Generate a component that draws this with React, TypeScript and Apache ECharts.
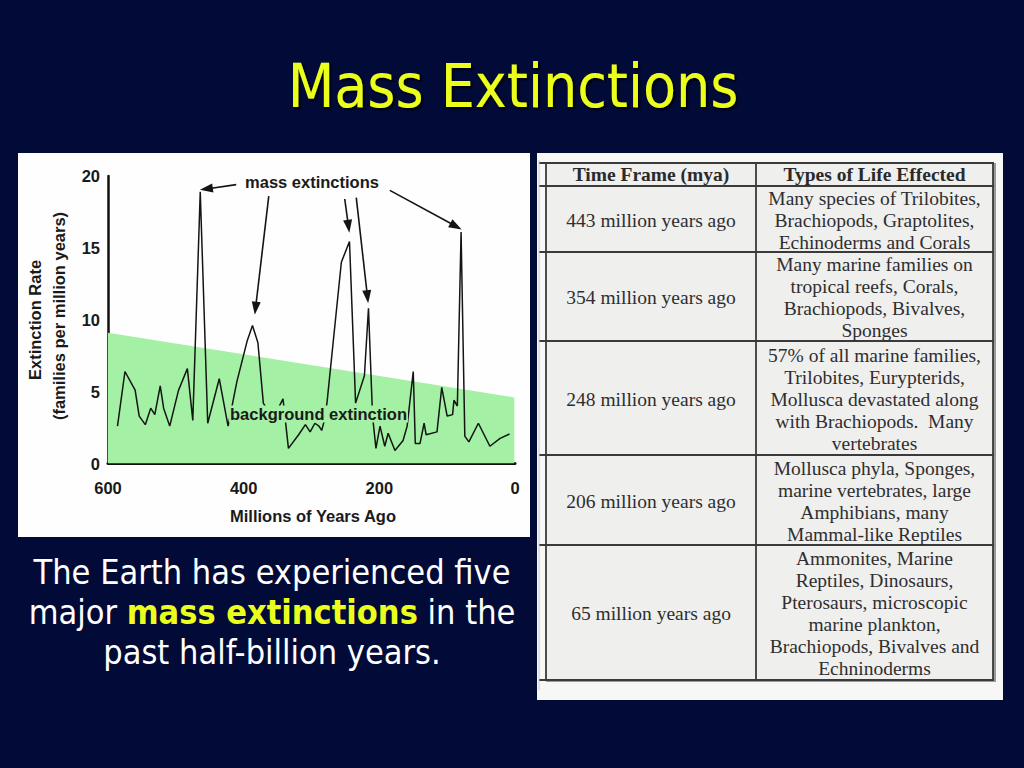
import React, { useEffect, useRef } from "react";
import * as echarts from "echarts";

// ---------- content ----------
const TITLE = "Mass Extinctions";
const Y_NAME_1 = "Extinction Rate";
const Y_NAME_2 = "(families per million years)";
const X_NAME = "Millions of Years Ago";
const MASS_LABEL = "mass extinctions";
const BACKGROUND_LABEL = "background extinction";

// [millions of years ago, extinction rate]
const extinctionRate: [number, number][] = [
  [586, 2.6], [575, 6.4], [560, 5.1], [554, 3.3], [545, 2.7], [537, 3.85], [531, 3.4],
  [523, 5.4], [518, 3.85], [509, 2.6], [496, 5.1], [483, 6.6], [475, 3.0], [464, 18.9],
  [453, 2.8], [436, 5.9], [423, 2.6], [410, 5.7], [395, 8.5], [387, 9.6], [379, 8.4],
  [371, 4.2], [357, 3.1], [342, 4.5], [334, 1.05], [319, 2.0], [309, 2.7], [302, 2.2],
  [295, 2.8], [289, 2.6], [285, 2.3], [281, 3.0], [277, 4.3], [256, 14.0], [244, 15.45],
  [235, 4.2], [222, 6.1], [216, 10.8], [210, 3.3], [205, 1.05], [199, 2.6], [192, 1.2],
  [187, 2.1], [177, 0.9], [165, 1.6], [159, 2.6], [150, 6.4], [147, 1.4], [140, 1.4],
  [134, 2.8], [131, 2.0], [115, 2.2], [108, 5.3], [100, 3.3], [92, 3.4], [90, 4.4],
  [85, 4.0], [79.5, 16.1], [74, 1.9], [68, 1.5], [54, 2.8], [37, 1.2], [22, 1.75], [8, 2.05],
];
// green "background extinction" band: [mya, upper edge]
const backgroundBand: [number, number][] = [[600, 9.1], [1, 4.6]];
// annotation arrows: tail -> head in data coords [mya, rate]
const arrowTails: [number, number][] = [[411, 19.4], [363, 18.6], [251, 18.4], [234, 18.5], [184.5, 19.0]];
const arrowHeads: [number, number][] = [[455, 19.1], [382.5, 10.8], [245.5, 16.5], [217.5, 11.6], [87, 16.5]];

const tableHeader = ["Time Frame (mya)", "Types of Life Effected"];
const timeFrames = [
  "443 million years ago",
  "354 million years ago",
  "248 million years ago",
  "206 million years ago",
  "65 million years ago",
];
const lifeAffected = [
  "Many species of Trilobites,\nBrachiopods, Graptolites,\nEchinoderms and Corals",
  "Many marine families on\ntropical reefs, Corals,\nBrachiopods, Bivalves,\nSponges",
  "57% of all marine families,\nTrilobites, Eurypterids,\nMollusca devastated along\nwith Brachiopods.  Many\nvertebrates",
  "Mollusca phyla, Sponges,\nmarine vertebrates, large\nAmphibians, many\nMammal-like Reptiles",
  "Ammonites, Marine\nReptiles, Dinosaurs,\nPterosaurs, microscopic\nmarine plankton,\nBrachiopods, Bivalves and\nEchninoderms",
];
const CAPTION = "The Earth has experienced five\nmajor {b|mass extinctions} in the\npast half-billion years.";

// ---------- styles / layout ----------
const SLIDE_BG = "#020a37";
const YELLOW = "#ecff1c";
const GREEN = "#a4f0a4";
const SLIDE_FONT = '"DejaVu Sans Condensed", "DejaVu Sans", sans-serif';
const CHART_FONT = '"Liberation Sans", Arial, sans-serif';
const TABLE_FONT = '"Liberation Serif", "Times New Roman", serif';
const TABLE_ROWS_Y = [163, 186, 252, 341, 455, 545, 680];
const TABLE_COLS_X = [546, 756, 993];
const CHART_FS = 16.5;
const TABLE_FS = 19.5;

function txt(
  text: string, x: number, y: number, font: string, size: number, weight: string,
  fill: string, extra: any = {}, elExtra: any = {}
) {
  return {
    type: "text", x, y, z: 100, silent: true, ...elExtra,
    style: {
      text, fill, fontFamily: font, fontSize: size, fontWeight: weight,
      align: "center", textAlign: "center", verticalAlign: "middle", textVerticalAlign: "middle",
      ...extra,
    },
  };
}

export default function App() {
  const ref = useRef<HTMLDivElement>(null);
  useEffect(() => {
    if (!ref.current) return;
    const chart = echarts.init(ref.current, null, { renderer: "svg", width: 1024, height: 768 });

    const graphics: any[] = [];
    // chart panel
    graphics.push({ type: "rect", z: 0, silent: true, shape: { x: 18, y: 153, width: 512, height: 384 }, style: { fill: "#fefefe" } });
    // table panel
    graphics.push({ type: "rect", z: 0, silent: true, shape: { x: 537, y: 153, width: 466, height: 547 }, style: { fill: "#f7f7f5" } });
    graphics.push({
      type: "rect", z: 1, silent: true,
      shape: { x: TABLE_COLS_X[0], y: TABLE_ROWS_Y[0], width: TABLE_COLS_X[2] - TABLE_COLS_X[0], height: TABLE_ROWS_Y[6] - TABLE_ROWS_Y[0] },
      style: { fill: "#efefee" },
    });
    // right shadow of table
    graphics.push({ type: "rect", z: 1, silent: true, shape: { x: 993, y: 163, width: 3, height: 519 }, style: { fill: "#9a9a9a" } });
    graphics.push({ type: "rect", z: 1, silent: true, shape: { x: 546, y: 680, width: 450, height: 2 }, style: { fill: "#9a9a9a" } });
    TABLE_ROWS_Y.forEach((y) => {
      graphics.push({ type: "line", z: 2, silent: true, shape: { x1: 539, y1: y, x2: 994, y2: y }, style: { stroke: "#3a3a3a", lineWidth: 1.8 } });
    });
    TABLE_COLS_X.forEach((x) => {
      graphics.push({ type: "line", z: 2, silent: true, shape: { x1: x, y1: TABLE_ROWS_Y[0], x2: x, y2: TABLE_ROWS_Y[6] }, style: { stroke: "#3a3a3a", lineWidth: 1.8 } });
    });
    graphics.push({ type: "line", z: 2, silent: true, shape: { x1: 539, y1: 160, x2: 539, y2: 690 }, style: { stroke: "#c8c8d0", lineWidth: 1 } });
    const colMid = [(TABLE_COLS_X[0] + TABLE_COLS_X[1]) / 2, (TABLE_COLS_X[1] + TABLE_COLS_X[2]) / 2];
    graphics.push(txt(tableHeader[0], colMid[0], (TABLE_ROWS_Y[0] + TABLE_ROWS_Y[1]) / 2, TABLE_FONT, TABLE_FS, "bold", "#2a2a2a"));
    graphics.push(txt(tableHeader[1], colMid[1], (TABLE_ROWS_Y[0] + TABLE_ROWS_Y[1]) / 2, TABLE_FONT, TABLE_FS, "bold", "#2a2a2a"));
    timeFrames.forEach((t, i) => {
      const cy = (TABLE_ROWS_Y[i + 1] + TABLE_ROWS_Y[i + 2]) / 2 + 1;
      graphics.push(txt(t, colMid[0], cy, TABLE_FONT, TABLE_FS, "normal", "#2e2e2e"));
      graphics.push(txt(lifeAffected[i], colMid[1], cy, TABLE_FONT, TABLE_FS, "normal", "#2e2e2e", { lineHeight: 22 }));
    });

    // title
    graphics.push(txt(TITLE, 513, 86, SLIDE_FONT, 60, "normal", YELLOW, {
      textShadowColor: "rgba(0,0,0,0.8)", textShadowOffsetX: 2, textShadowOffsetY: 2, textShadowBlur: 2,
    }));
    // caption
    graphics.push(txt(CAPTION, 272, 612, SLIDE_FONT, 34, "normal", "#ffffff", {
      lineHeight: 40,
      rich: { b: { fontFamily: SLIDE_FONT, fontSize: 34, fontWeight: "bold", fill: YELLOW, color: YELLOW, lineHeight: 40 } },
    }));

    // chart annotations
    graphics.push(txt(MASS_LABEL, 312, 182, CHART_FONT, CHART_FS, "bold", "#1a1a1a"));
    graphics.push(txt(BACKGROUND_LABEL, 318.5, 414, CHART_FONT, CHART_FS, "bold", "#1a1a1a", {
      backgroundColor: GREEN, padding: [0, 1],
    }));
    graphics.push(txt(X_NAME, 313, 516, CHART_FONT, CHART_FS, "bold", "#1a1a1a"));
    graphics.push(txt(Y_NAME_1, 34.5, 320, CHART_FONT, CHART_FS, "bold", "#1a1a1a", {}, { rotation: Math.PI / 2 }));
    graphics.push(txt(Y_NAME_2, 58.5, 316, CHART_FONT, CHART_FS, "bold", "#1a1a1a", {}, { rotation: Math.PI / 2 }));

    const option: any = {
      animation: false,
      backgroundColor: SLIDE_BG,
      grid: { left: 108, top: 176, width: 407, height: 287.5, containLabel: false },
      xAxis: {
        type: "value", min: 0, max: 600, interval: 200, inverse: true,
        axisLine: { show: true, onZero: false, lineStyle: { color: "#111", width: 3 } },
        axisTick: { show: false }, splitLine: { show: false },
        axisLabel: { margin: 16, fontFamily: CHART_FONT, fontSize: CHART_FS, fontWeight: "bold", color: "#1a1a1a" },
      },
      yAxis: {
        type: "value", min: 0, max: 20, interval: 5,
        axisLine: { show: true, onZero: false, lineStyle: { color: "#111", width: 2.5 } },
        axisTick: { show: false }, splitLine: { show: false },
        axisLabel: { margin: 8, fontFamily: CHART_FONT, fontSize: CHART_FS, fontWeight: "bold", color: "#1a1a1a" },
      },
      series: [
        {
          type: "line", data: backgroundBand, symbol: "none", silent: true, z: 1,
          lineStyle: { width: 0 }, areaStyle: { color: GREEN, opacity: 1 },
        },
        {
          type: "line", data: extinctionRate, symbol: "none", silent: true, z: 3,
          lineStyle: { color: "#141414", width: 1.5 },
          markLine: {
            silent: true, symbol: ["none", "triangle"], symbolSize: [9, 13],
            label: { show: false },
            lineStyle: { color: "#141414", width: 1.6, type: "solid" },
            data: arrowTails.map((t, i) => [{ coord: t }, { coord: arrowHeads[i] }]),
          },
        },
      ],
      graphic: graphics,
    };
    chart.setOption(option);
    return () => chart.dispose();
  }, []);
  return <div ref={ref} style={{ position: "fixed", left: 0, top: 0, width: 1024, height: 768 }} />;
}
